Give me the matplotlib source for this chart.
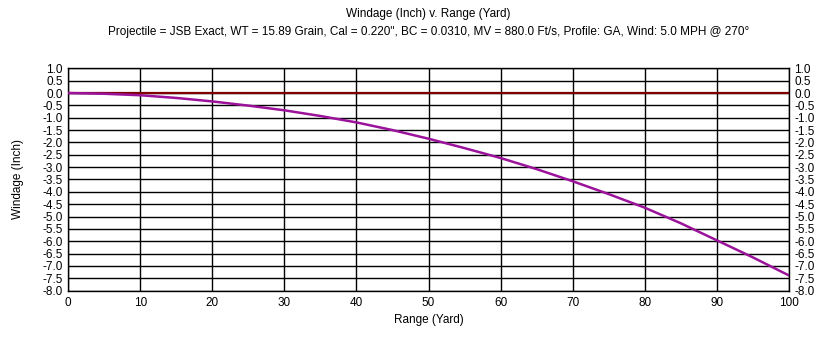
import numpy as np
import matplotlib.pyplot as plt

plt.rcParams["font.family"] = ["Liberation Sans", "DejaVu Sans"]

# range (yard) and windage (inch)
range_yd = [0, 5, 10, 15, 20, 25, 30, 35, 40, 45, 50,
            55, 60, 65, 70, 75, 80, 85, 90, 95, 100]
windage_in = [0.0, -0.03, -0.09, -0.20, -0.34, -0.51, -0.70, -0.93, -1.19, -1.50, -1.85,
              -2.23, -2.63, -3.08, -3.57, -4.09, -4.64, -5.27, -5.96, -6.65, -7.38]
zero_line = [0.0, 0.0]
zero_x = [0, 100]

title = "Windage (Inch) v. Range (Yard)"
subtitle = ('Projectile = JSB Exact, WT = 15.89 Grain, Cal = 0.220", BC = 0.0310, '
            'MV = 880.0 Ft/s, Profile: GA, Wind: 5.0 MPH @ 270°')

FS = 8.5

fig = plt.figure(figsize=(8.37, 3.48), dpi=100)
ax = fig.add_axes([0.0816, 0.1647, 0.8608, 0.639])

ax.plot(zero_x, zero_line, color="#800000", linewidth=1.6, zorder=3)
ax.plot(range_yd, windage_in, color="#9B129B", linewidth=1.8, zorder=4)

ax.set_xlim(0, 100)
ax.set_ylim(-8, 1)
ax.set_xticks(np.arange(0, 101, 10))
yt = np.arange(-8, 1.01, 0.5)
ax.set_yticks(yt)
ax.set_yticklabels([f"{v:.1f}" for v in yt])
ax.grid(True, color="black", linewidth=1.0)
ax.set_axisbelow(True)
for s in ax.spines.values():
    s.set_linewidth(1.0)

ax.tick_params(axis="y", which="both", length=0, pad=4, labelsize=FS,
               left=True, right=True, labelleft=True, labelright=True)
ax.tick_params(axis="x", length=0, pad=4.5, labelsize=FS)

ax.set_xlabel("Range (Yard)", fontsize=FS, labelpad=3.5)
ax.set_ylabel("Windage (Inch)", fontsize=FS, labelpad=13)

cx = 0.0816 + 0.8608 / 2
fig.text(cx, 1 - 13.5 / 348, title, ha="center", va="center", fontsize=FS)
fig.text(cx, 1 - 31.5 / 348, subtitle, ha="center", va="center", fontsize=FS)

fig.savefig("out.png", dpi=100)
